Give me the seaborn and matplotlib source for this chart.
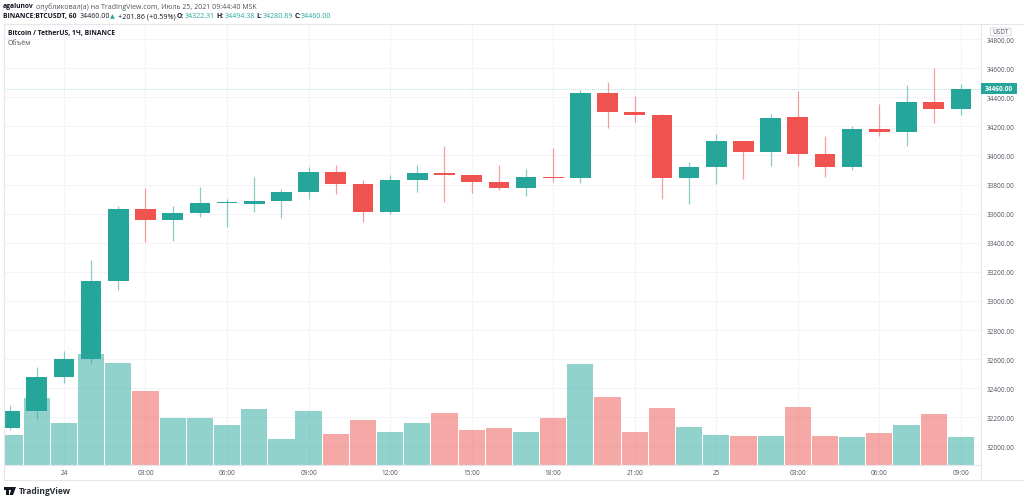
import numpy as np
import pandas as pd
import matplotlib
matplotlib.use("Agg")
import matplotlib.pyplot as plt
from matplotlib.lines import Line2D
from matplotlib.patches import Rectangle, FancyBboxPatch, Polygon
import seaborn as sns

opens = [32125, 32244, 32478, 32601, 33135, 33632, 33555, 33603, 33671, 33670, 33687, 33749,
         33889, 33804, 33614, 33834, 33880, 33868, 33818, 33779, 33854, 33845, 34427, 34301,
         34280, 33845, 33923, 34098, 34022, 34262, 34010, 33923, 34180, 34162, 34368, 34322]
closes = [32244, 32478, 32601, 33135, 33632, 33555, 33603, 33671, 33674, 33687, 33749, 33889,
          33804, 33614, 33834, 33880, 33866, 33816, 33779, 33852, 33845, 34427, 34301, 34280,
          33845, 33923, 34098, 34022, 34260, 34010, 33923, 34180, 34162, 34368, 34322, 34460]
highs = [32285, 32544, 32658, 33282, 33651, 33779, 33651, 33781, 33701, 33850, 33770, 33919,
         33937, 33832, 33866, 33937, 34067, 33868, 33937, 33907, 34050, 34450, 34503, 34407,
         34284, 33953, 34146, 34100, 34285, 34441, 34132, 34203, 34354, 34487, 34601, 34494]
lows = [32115, 32189, 32436, 32567, 33074, 33403, 33412, 33579, 33511, 33614, 33570, 33701,
        33737, 33543, 33596, 33751, 33678, 33740, 33765, 33720, 33816, 33813, 34187, 34232,
        33703, 33667, 33804, 33839, 33928, 33926, 33850, 33902, 34136, 34063, 34221, 34281]
volumes = [1180, 2648, 1648, 4408, 4060, 2952, 1848, 1872, 1568, 2220, 1020, 2128,
           1220, 1780, 1312, 1672, 2060, 1368, 1472, 1288, 1872, 4008, 2688, 1312,
           2260, 1512, 1180, 1128, 1152, 2288, 1128, 1112, 1268, 1580, 2008, 1112]
time_ticks = ["24", "03:00", "06:00", "09:00", "12:00", "15:00", "18:00", "21:00",
              "25", "03:00", "06:00", "09:00"]
price_ticks = [32000, 32200, 32400, 32600, 32800, 33000, 33200, 33400, 33600, 33800,
               34000, 34200, 34400, 34600, 34800]
last_price = 34460.00

GREEN = "#26a69a"
RED = "#ef5350"
TXT = "#50535e"
GRID = "#f3f3f9"
FRAME = "#e6e6ec"

sns.set_theme(style="white")
plt.rcParams["font.family"] = ["Open Sans", "DejaVu Sans"]

W, H = 1024, 502
df = pd.DataFrame({"i": np.arange(len(opens)), "o": opens, "c": closes, "h": highs, "l": lows, "v": volumes})
df["up"] = df.c >= df.o
df["bottom"] = df[["o", "c"]].min(axis=1)
df["body"] = (df.c - df.o).abs().clip(lower=8)

fig = plt.figure(figsize=(W / 100, H / 100), dpi=100, facecolor="white")
L, R, T, B = 4, 981, 26, 465.5
axv = fig.add_axes([L / W, 1 - B / H, (R - L) / W, (B - T) / H])
axp = axv.twinx()
axv.set_zorder(1)
axp.set_zorder(2)
axp.patch.set_alpha(0)
axv.set_facecolor("white")

# volume
for up, col in [(True, GREEN), (False, RED)]:
    sub = df[df.up == up]
    sns.barplot(data=sub, x="i", y="v", native_scale=True, color=col, alpha=0.5, width=0.965,
                saturation=1, errorbar=None, linewidth=0, ax=axv, zorder=3)
# wicks
for up, col in [(True, GREEN), (False, RED)]:
    sub = df[df.up == up]
    axp.vlines(sub.i, sub.l, sub.h, color=col, linewidth=0.9, alpha=0.55, zorder=2)
# bodies
for up, col in [(True, GREEN), (False, RED)]:
    sub = df[df.up == up]
    sns.barplot(data=sub, x="i", y="body", bottom=sub["bottom"].to_numpy(), native_scale=True, color=col,
                width=0.76, saturation=1, errorbar=None, linewidth=0, ax=axp, zorder=3)

x0 = -0.206
x1 = 35.74
axv.set_xlim(x0, x1)
axp.set_xlim(x0, x1)
axv.set_ylim(0, (B - T) * 40)
axp.set_ylim(31876, 34897)

tick_pos = df.i.to_numpy()[2::3]
axv.set_xticks(tick_pos)
axv.set_xticklabels(time_ticks, fontsize=4.7, color=TXT)
axv.tick_params(axis="x", length=0, pad=3.2)
axv.set_yticks([])
axv.set_xlabel("")
axv.set_ylabel("")
axv.xaxis.grid(True, color=GRID, linewidth=0.8)
axv.set_axisbelow(True)
# horizontal grid sits behind the translucent volume bars
axv.hlines(price_ticks, 0, 1, transform=axp.get_yaxis_transform(), color=GRID, linewidth=0.8, zorder=0.5)

axp.yaxis.tick_right()
axp.set_yticks(price_ticks)
axp.set_yticklabels([f"{p:.2f}" for p in price_ticks], fontsize=4.7, color=TXT)
axp.tick_params(axis="y", length=0, pad=4.3)
axp.set_ylabel("")
axp.set_xlabel("")
axp.grid(False)
axp.xaxis.set_visible(False)
for a in (axv, axp):
    for s in a.spines.values():
        s.set_visible(False)

axp.axhline(last_price, color=GREEN, linewidth=0.6, linestyle=(0, (1, 1.5)), alpha=0.5, zorder=1)


def px(x, y):
    return x / W, 1 - y / H


def fline(x1_, y1_, x2_, y2_, color=FRAME):
    a = px(x1_, y1_)
    b = px(x2_, y2_)
    fig.add_artist(Line2D([a[0], b[0]], [a[1], b[1]], color=color, linewidth=0.8, zorder=5))


fline(3.5, 24.5, 1024, 24.5)
fline(3.5, 24.5, 3.5, 481)
fline(3.5, 481, 1024, 481)
fline(981.3, 24.5, 981.3, 481)
fline(3.5, 466, 981, 466)


def t(x, y, s, size=5.0, color="#131722", weight="normal", ha="left"):
    return fig.text(x / W, 1 - y / H, s, fontsize=size, color=color, fontweight=weight, ha=ha, va="center", zorder=10)


BOLD = 4.85
t(3, 7, "agalunov", size=BOLD, weight="bold")
t(36.5, 7, "опубликовал(а) на TradingView.com, Июль 25, 2021 09:44:40 MSK", color=TXT)
t(3, 16.7, "BINANCE:BTCUSDT, 60", size=BOLD, weight="bold")
t(80, 16.7, "34460.00")
t(110, 16.7, "▲", size=4.5, color=GREEN)
t(118, 16.7, "+201.86 (+0.59%)", size=5.2)
for lab, lx, val, vx in [("O:", 177, "34322.31", 185), ("H:", 216, "34494.38", 225),
                         ("L:", 256, "34280.89", 263), ("C:", 295, "34460.00", 301)]:
    t(lx, 16.7, lab, size=BOLD, weight="bold")
    t(vx, 16.7, val, color=GREEN)
t(8, 33.5, "Bitcoin / TetherUS, 1Ч, BINANCE", size=BOLD, weight="bold")
t(8, 43.5, "Объём", color=TXT)

# last-price tag
ax0, ay0 = px(981, 94.5)
fig.add_artist(Rectangle((ax0, ay0), 36 / W, 10.5 / H, transform=fig.transFigure, facecolor=GREEN, edgecolor="none", zorder=9))
t(999, 89.3, f"{last_price:.2f}", size=4.7, color="white", weight="bold", ha="center")

# currency tag
bx, by = px(990.5, 37)
fig.add_artist(FancyBboxPatch((bx, by), 20.5 / W, 8 / H, transform=fig.transFigure,
                              boxstyle="round,pad=0,rounding_size=0.002", facecolor="white",
                              edgecolor="#d8d8de", linewidth=0.6, zorder=9))
t(1000.7, 33, "USDT", size=4.7, color=TXT, ha="center")

# brand
logo = "#131722"
fig.add_artist(Polygon([px(3.5, 488), px(8.5, 488), px(8.5, 496), px(6, 496), px(6, 491), px(3.5, 491)],
                       closed=True, transform=fig.transFigure, facecolor=logo, edgecolor="none", zorder=9))
cx, cy = px(10.5, 489.5)
fig.add_artist(Rectangle((cx - 1.2 / W, cy - 1.4 / H), 2.4 / W, 2.8 / H, transform=fig.transFigure, facecolor=logo, edgecolor="none", zorder=9))
fig.add_artist(Polygon([px(12, 488), px(16, 488), px(13, 496), px(9.5, 496)],
                       closed=True, transform=fig.transFigure, facecolor=logo, edgecolor="none", zorder=9))
t(19, 492, "TradingView", size=6.1, color="#2a2e39", weight="bold")

fig.savefig("out.png", dpi=100, facecolor="white")
